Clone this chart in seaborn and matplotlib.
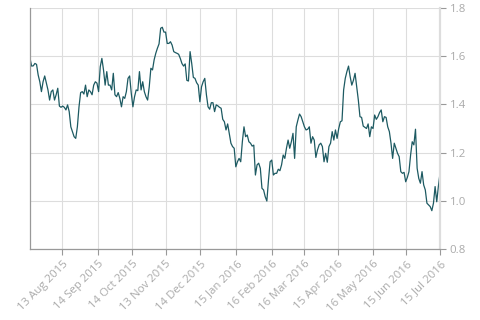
import numpy as np
import pandas as pd
import matplotlib
matplotlib.use("Agg")
import matplotlib.pyplot as plt
import matplotlib.dates as mdates
import seaborn as sns

start_date = "2015-07-15"
end_date = "2016-07-15"

values = [
    # Jul - Sep 2015
    1.591, 1.559, 1.56, 1.57, 1.566, 1.522, 1.494, 1.453, 1.494, 1.518, 1.488, 1.46,
    1.418, 1.453, 1.46, 1.418, 1.44, 1.467, 1.393, 1.388, 1.393, 1.388, 1.377, 1.398,
    1.37, 1.307, 1.287, 1.266, 1.259, 1.307, 1.39, 1.449, 1.453, 1.443, 1.48, 1.432,
    1.46, 1.453, 1.44, 1.48, 1.494, 1.488, 1.453,
    # Sep - Nov 2015
    1.556, 1.591, 1.543, 1.48, 1.536, 1.48, 1.48, 1.46, 1.529, 1.44, 1.432, 1.449,
    1.425, 1.39, 1.432, 1.425, 1.453, 1.508, 1.518, 1.446, 1.39, 1.432, 1.46, 1.457,
    1.536, 1.46, 1.494, 1.453, 1.432, 1.418, 1.473, 1.55, 1.543, 1.585, 1.612, 1.633,
    1.651, 1.716, 1.72, 1.70, 1.70, 1.653, 1.653, 1.66,
    # Nov 2015 - Jan 2016
    1.646, 1.619, 1.615, 1.612, 1.608, 1.591, 1.57, 1.559, 1.568, 1.50, 1.497, 1.619,
    1.57, 1.512, 1.508, 1.49, 1.48, 1.411, 1.473, 1.494, 1.508, 1.44, 1.39, 1.38,
    1.407, 1.407, 1.37, 1.398, 1.394, 1.388, 1.384, 1.338, 1.328, 1.294, 1.319, 1.28,
    1.239, 1.225, 1.218,
    # Jan - Mar 2016
    1.141, 1.162, 1.176, 1.162, 1.245, 1.307, 1.266, 1.273, 1.245, 1.239, 1.227, 1.231,
    1.107, 1.149, 1.156, 1.135, 1.052, 1.045, 1.017, 0.999, 1.086, 1.162, 1.169, 1.107,
    1.114, 1.114, 1.131, 1.125, 1.149, 1.19, 1.176, 1.218, 1.252, 1.218, 1.245, 1.28,
    1.176, 1.307, 1.335, 1.36, 1.349, 1.328,
    # Mar - May 2016
    1.307, 1.294, 1.297, 1.307, 1.239, 1.266, 1.252, 1.18, 1.211, 1.232, 1.239, 1.225,
    1.162, 1.197, 1.16, 1.225, 1.239, 1.287, 1.252, 1.294, 1.259, 1.30, 1.328, 1.332,
    1.46, 1.508, 1.536, 1.559, 1.515, 1.48, 1.50, 1.529, 1.473, 1.418, 1.349, 1.346,
    1.31, 1.305, 1.30, 1.319, 1.266, 1.307,
    # May - Jul 2016
    1.30, 1.356, 1.338, 1.349, 1.366, 1.377, 1.328, 1.349, 1.346, 1.307, 1.287, 1.239,
    1.176, 1.239, 1.218, 1.197, 1.183, 1.121, 1.114, 1.118, 1.079, 1.097, 1.121, 1.19,
    1.245, 1.232, 1.297, 1.135, 1.093, 1.073, 1.121, 1.066, 1.045, 0.99, 0.983, 0.976,
    0.959, 0.99, 1.059, 0.996, 1.059, 1.114,
]

tick_labels = ["13 Aug 2015", "14 Sep 2015", "14 Oct 2015", "13 Nov 2015", "14 Dec 2015",
               "15 Jan 2016", "16 Feb 2016", "16 Mar 2016", "15 Apr 2016", "16 May 2016",
               "15 Jun 2016", "15 Jul 2016"]
y_ticks = [0.8, 1.0, 1.2, 1.4, 1.6, 1.8]

dates = pd.date_range(start_date, end_date, periods=len(values))
df = pd.DataFrame({"date": dates, "value": values})

sns.set_theme(style="white")
plt.rcParams["font.family"] = ["Open Sans", "DejaVu Sans"]

fig = plt.figure(figsize=(4.8, 3.2), dpi=100)
ax = fig.add_axes([30 / 480, 1 - 249 / 320, 410 / 480, 241 / 320])

sns.lineplot(data=df, x="date", y="value", ax=ax, color="#1d5a62", linewidth=0.9)

tick_dates = pd.to_datetime(tick_labels, format="%d %b %Y")
ax.set_xticks(tick_dates)
ax.set_xticklabels(tick_labels, rotation=45, ha="right", rotation_mode="anchor")
ax.set_xlim(dates[0], dates[-1])
ax.set_ylim(0.8, 1.8)
ax.set_yticks(y_ticks)
ax.set_yticklabels([f"{v:.1f}" for v in y_ticks])
ax.yaxis.tick_right()

ax.grid(True, color="#dddddd", linewidth=0.8)
ax.set_axisbelow(True)
ax.set_xlabel("")
ax.set_ylabel("")

ax.spines["top"].set_visible(False)
ax.spines["left"].set_color("#999999")
ax.spines["left"].set_linewidth(0.9)
ax.spines["bottom"].set_color("#999999")
ax.spines["bottom"].set_linewidth(0.9)
ax.spines["right"].set_color("#dddddd")
ax.spines["right"].set_linewidth(1.6)

ax.tick_params(axis="x", colors="#999999", labelsize=8.2, length=4, width=0.8, pad=3,
               bottom=True, direction="out")
ax.tick_params(axis="y", colors="#999999", labelsize=8.2, length=4, width=0.8, pad=3,
               right=True, left=False, direction="out")
for lbl in ax.get_xticklabels() + ax.get_yticklabels():
    lbl.set_color("#aaaaaa")

fig.savefig("out.png", dpi=100)
